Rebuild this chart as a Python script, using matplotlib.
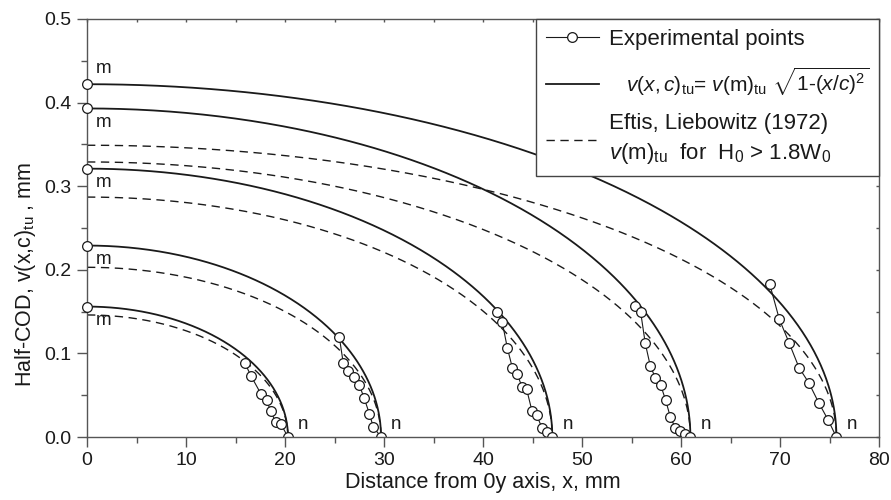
import matplotlib
matplotlib.use('Agg')
import matplotlib.pyplot as plt
import numpy as np
from matplotlib.ticker import MultipleLocator

plt.rcParams['font.family'] = ['Liberation Sans', 'DejaVu Sans']
plt.rcParams['mathtext.fontset'] = 'custom'
plt.rcParams['mathtext.rm'] = 'Liberation Sans'
plt.rcParams['mathtext.it'] = 'Liberation Sans:italic'
plt.rcParams['mathtext.bf'] = 'Liberation Sans:bold'

# crack half-length c (point n) and half-COD at x=0 (point m), mm
c_len = [20.3, 29.7, 47.0, 60.95, 75.7]
vm_exp = [0.156, 0.229, 0.321, 0.393, 0.422]
vm_eftis = [0.146, 0.203, 0.287, 0.329, 0.349]

# experimental points near the crack tip
x_exp = [
    [15.96, 16.57, 17.55, 18.15, 18.55, 19.06, 19.56, 20.30],
    [25.48, 25.89, 26.39, 26.97, 27.51, 27.98, 28.52, 28.92, 29.70],
    [41.44, 41.95, 42.45, 42.96, 43.46, 43.94, 44.41, 44.95, 45.42, 45.96, 46.43, 46.97],
    [55.35, 55.93, 56.39, 56.90, 57.40, 57.95, 58.45, 58.92, 59.42, 59.93, 60.43, 60.94],
    [68.96, 69.93, 70.94, 71.92, 72.90, 73.91, 74.88, 75.69],
]
v_exp = [
    [0.088, 0.073, 0.052, 0.044, 0.031, 0.018, 0.016, 0.0],
    [0.120, 0.088, 0.079, 0.072, 0.062, 0.047, 0.028, 0.012, 0.0],
    [0.149, 0.137, 0.107, 0.083, 0.075, 0.060, 0.057, 0.031, 0.026, 0.011, 0.006, 0.0],
    [0.157, 0.149, 0.112, 0.085, 0.071, 0.062, 0.044, 0.024, 0.011, 0.0075, 0.0035, 0.0],
    [0.183, 0.141, 0.112, 0.083, 0.065, 0.041, 0.020, 0.0],
]

ink = '#1a1a1a'
fig = plt.figure(figsize=(8.91, 5), dpi=100)
fig.subplots_adjust(left=87/891, right=879/891, top=1-19/500, bottom=1-437/500)
ax = fig.add_subplot(111)

theta = np.linspace(0, np.pi/2, 400)
for i, c in enumerate(c_len):
    xs = c*np.sin(theta)
    l2, = ax.plot(xs, vm_exp[i]*np.cos(theta), color=ink, lw=1.3)
    l3, = ax.plot(xs, vm_eftis[i]*np.cos(theta), color=ink, lw=1.0, dashes=(6, 4))
    l1, = ax.plot(x_exp[i], v_exp[i], color=ink, lw=0.8, marker='o', ms=7,
                  mfc='white', mec=ink, mew=0.9)
    ax.plot([0], [vm_exp[i]], ls='none', marker='o', ms=7, mfc='white', mec=ink,
            mew=0.9, clip_on=False, zorder=5)
    dy = 11 if i == 4 else -10
    ax.annotate('m', (0, vm_exp[i]), xytext=(12, dy), textcoords='offset points',
                ha='center', va='center', fontsize=13.5, color=ink)
    ax.annotate('n', (c, 0), xytext=(11, 9), textcoords='offset points',
                ha='center', va='center', fontsize=13.5, color=ink)

ax.set_xlim(0, 80)
ax.set_ylim(0, 0.5)
ax.xaxis.set_major_locator(MultipleLocator(10))
ax.xaxis.set_minor_locator(MultipleLocator(5))
ax.yaxis.set_major_locator(MultipleLocator(0.1))
ax.yaxis.set_minor_locator(MultipleLocator(0.05))
ax.yaxis.set_major_formatter(plt.FormatStrFormatter('%.1f'))

spine_c = '#555555'
for s in ax.spines.values():
    s.set_color(spine_c)
    s.set_linewidth(1.0)
ax.tick_params(which='major', direction='out', length=7, width=1, color=spine_c,
               labelsize=14, labelcolor=ink, pad=4)
ax.tick_params(which='minor', direction='out', length=4, width=1, color=spine_c)

top = ax.secondary_xaxis('top')
top.set_xticks(np.arange(0, 81, 5))
top.tick_params(direction='in', length=2.5, width=1, color=spine_c, labeltop=False)
top.spines['top'].set_visible(False)
right = ax.secondary_yaxis('right')
right.set_yticks(np.arange(0, 0.51, 0.05))
right.tick_params(direction='in', length=2.5, width=1, color=spine_c, labelright=False)
right.spines['right'].set_visible(False)

ax.set_xlabel('Distance from 0y axis, x, mm', fontsize=15.5, color=ink)
ax.set_ylabel(r'Half-COD, v(x,c)$_{\rm tu}$ , mm', fontsize=15.5, color=ink)
ax.xaxis.set_label_coords(0.5, -0.083)
ax.yaxis.set_label_coords(-0.062, 0.39)

leg = ax.legend([l1, l2, l3],
                ['Experimental points',
                 r'   $v(x,c)_{\rm tu}$= $v$(m)$_{\rm tu}$ $\sqrt{1\text{-}(x/c)^2}$',
                 'Eftis, Liebowitz (1972)\n' + r'$v$(m)$_{\rm tu}$  for  H$_0$ > 1.8W$_0$'],
                loc='upper right', borderaxespad=0, fontsize=16, handlelength=2.4,
                handletextpad=0.45, labelspacing=0.7, fancybox=False, framealpha=1,
                edgecolor='#444444', borderpad=0.45)
leg.get_frame().set_linewidth(1.0)
for t in leg.get_texts():
    t.set_color(ink)
    t.set_linespacing(1.35)
leg.get_texts()[1].set_fontsize(15)

fig.savefig('out.png', dpi=100)
